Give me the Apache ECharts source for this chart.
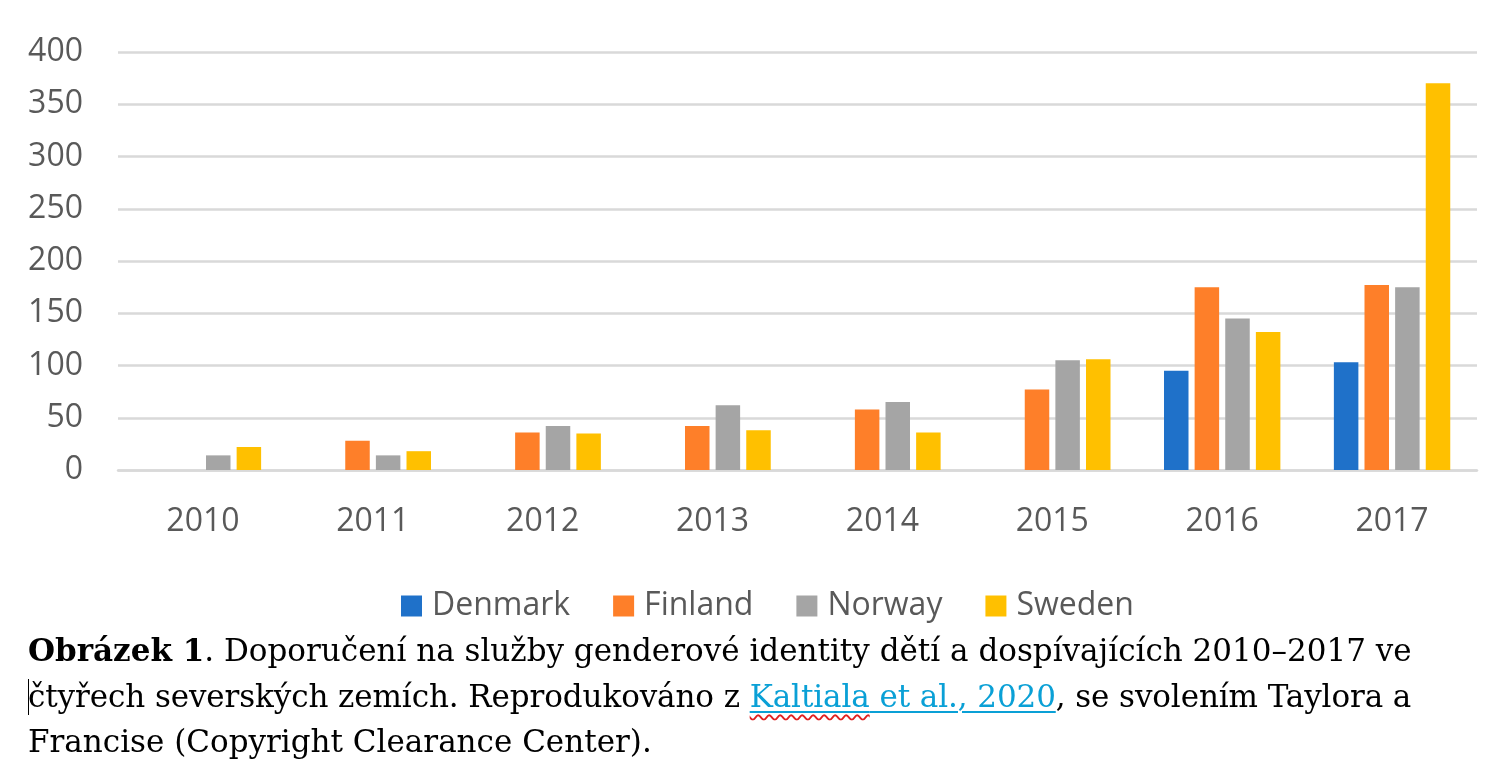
<!DOCTYPE html>
<html>
<head>
<meta charset="utf-8">
<script src="https://cdn.jsdelivr.net/npm/echarts@6/dist/echarts.min.js"></script>
<style>
  html, body { margin: 0; padding: 0; background: #fff; }
  #wrap { position: relative; width: 1494px; height: 770px; overflow: hidden; }
  #chart { position: absolute; left: 0; top: 0; width: 1494px; height: 770px; }
  #caption { position: absolute; left: 28px; top: 628px; font-family: "DejaVu Serif", "Liberation Serif", serif; font-size: 31px; line-height: 45.5px; color: #000; white-space: nowrap; }
  #caption .ln { display: block; height: 45.5px; }
  .lnk { color: #0aa0d6; text-decoration: underline; text-decoration-color: #0aa0d6; text-decoration-thickness: 2px; text-underline-offset: 4px; }
  .sp { text-decoration: underline wavy #e02020; text-decoration-thickness: 1.5px; text-underline-offset: 7px; }
  .caret { display: inline-block; width: 1px; height: 36px; background: #000; vertical-align: -8px; margin-right: -1px; }
</style>
</head>
<body>
<div id="wrap">
  <div id="chart"></div>
  <div id="caption">
    <span class="ln"><b>Obrázek 1</b>. Doporučení na služby genderové identity dětí a dospívajících 2010–2017 ve</span>
    <span class="ln" style="letter-spacing:-0.1px"><span class="caret"></span>čtyřech severských zemích. Reprodukováno z <span class="lnk"><span class="sp">Kaltiala</span> et al., 2020</span>, se svolením Taylora a</span>
    <span class="ln">Francise (Copyright Clearance Center).</span>
  </div>
</div>
<script>
const years = ['2010', '2011', '2012', '2013', '2014', '2015', '2016', '2017'];
const denmark = [null, null, null, null, null, null, 95, 103];
const finland = [null, 28, 36, 42, 58, 77, 175, 177];
const norway = [14, 14, 42, 62, 65, 105, 145, 175];
const sweden = [22, 18, 35, 38, 36, 106, 132, 370];
const seriesNames = ['Denmark', 'Finland', 'Norway', 'Sweden'];
const seriesColors = ['#1f71c9', '#fe7f29', '#a5a5a5', '#ffc000'];
const seriesData = [denmark, finland, norway, sweden];

const chart = echarts.init(document.getElementById('chart'), null, { renderer: 'canvas' });
const font = '"Open Sans", "Noto Sans", sans-serif';
chart.setOption({
  animation: false,
  backgroundColor: '#ffffff',
  grid: { left: 118, right: 17, top: 52, bottom: 300, containLabel: false },
  legend: {
    left: 396,
    top: 585,
    icon: 'rect',
    itemWidth: 21,
    itemHeight: 21,
    itemGap: 43,
    textStyle: { fontFamily: font, fontSize: 32, color: '#595959', padding: [0, 0, 0, 5] },
    data: seriesNames
  },
  xAxis: {
    type: 'category',
    data: years,
    axisLine: { show: true, lineStyle: { color: '#d9d9d9', width: 2.5 } },
    axisTick: { show: false },
    axisLabel: { fontFamily: font, fontSize: 32, color: '#595959', margin: 36 }
  },
  yAxis: {
    type: 'value',
    min: 0,
    max: 400,
    interval: 50,
    axisLine: { show: false },
    axisTick: { show: false },
    splitLine: { lineStyle: { color: '#d9d9d9', width: 2.5 } },
    axisLabel: { fontFamily: font, fontSize: 32, color: '#595959', margin: 35 }
  },
  series: seriesNames.map((n, i) => ({
    name: n,
    type: 'bar',
    data: seriesData[i],
    barWidth: 24.5,
    barGap: '25%',
    itemStyle: { color: seriesColors[i] }
  }))
});
</script>
</body>
</html>
